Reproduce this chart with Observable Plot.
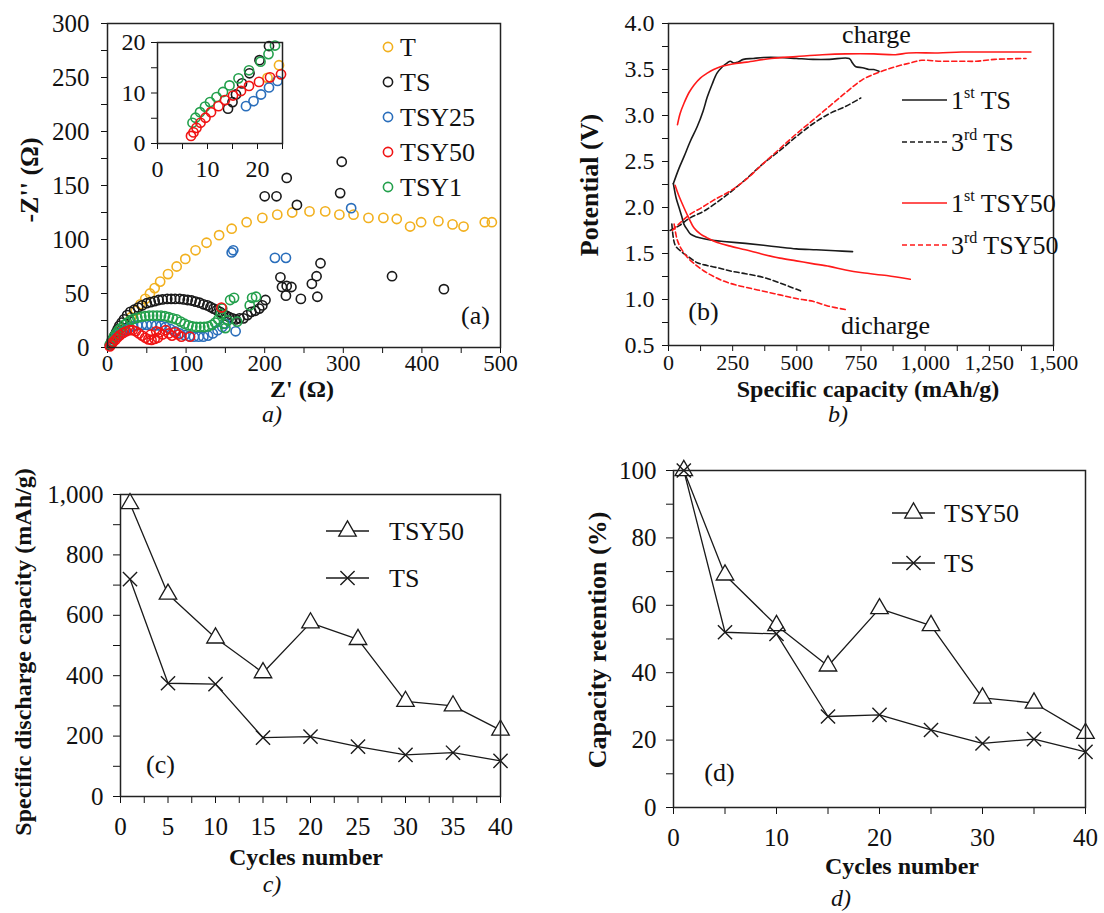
<!DOCTYPE html>
<html>
<head>
<meta charset="utf-8">
<script src="https://cdn.jsdelivr.net/npm/d3@7"></script>
<script src="https://cdn.jsdelivr.net/npm/@observablehq/plot@0.6"></script>
<style>
  html, body { margin: 0; padding: 0; background: #fff; }
  body { width: 1104px; height: 913px; position: relative; overflow: hidden; font-family: 'Liberation Serif', 'Times New Roman', serif; color: #111; }
  svg text, svg tspan { font-family: 'Liberation Serif', 'Times New Roman', serif !important; }
  .ttl { position: absolute; font-weight: bold; font-size: 26px; white-space: nowrap; transform: translate(-50%, -50%); line-height: 1; }
  .sm { font-size: 24px; }
  .rot { transform: translate(-50%, -50%) rotate(-90deg); }
  .cap { position: absolute; font-style: italic; font-size: 24px; transform: translate(-50%, -50%); line-height: 1; }
</style>
</head>
<body>
<div id="root"></div>
<script>
// ---------------- DATA ----------------
// (a) Nyquist plots: [Z', -Z''] pairs
const eisNames = ["T", "TS", "TSY25", "TSY50", "TSY1"];
const eisColors = ["#f2b01e", "#1a1a1a", "#2a6ebb", "#f01414", "#23a04c"];
const eisT = [[6,4],[12,10],[18,16],[24,22],[30,28],[36,34],[42,40],[48,45],[54,50],[60,55],[67,61],[77,68],[88,75],[99,82],[112,90],[126,97],[142,104],[158,110],[177,116],[197,120],[216,123],[235,125],[257,126],[277,126],[295,123],[313,123],[332,120],[351,120],[368,119],[385,112],[399,116],[421,117],[439,114],[453,112],[480,116],[489,116]];
const eisTS = [[3,2],[5,5],[7,8],[9,11],[11,14],[13,17],[15,20],[18,23],[21,26],[25,30],[29,33],[34,35],[39,37],[44,39],[50,41],[55,42],[60,43],[65,44],[70,44.5],[76,45],[81,45],[86,45],[92,45],[97,44.5],[102,44],[107,43.5],[112,42.5],[117,41.5],[122,40],[127,39],[131,37.5],[135,36],[139,34.5],[143,33],[147,31],[151,29.5],[155,28],[159,27],[163,26],[168,27],[173,27],[178,30],[183,33],[188,34],[193,36],[197,39],[201,44],
  [298,172],[296,143],[228,157],[200,140],[215,140],[241,132],[271,78],[266,66],[260,59],[267,47],[246,45],[220,65],[222,56],[228,57],[234,56],[227,48],[362,66],[428,54]];
const eisTSY25 = [[4,3],[7,6],[10,9],[14,12],[18,14],[22,16],[27,18],[32,19.5],[38,20.5],[44,21],[50,21],[56,21],[62,20.5],[68,20],[74,19],[80,17],[86,15],[92,13],[98,11.5],[104,10.5],[110,10],[116,10],[122,10],[128,11],[134,13],[140,16],[146,19],[150,22],[163,15],[158,88],[160,90],[213,83],[227,83],[310,129]];
const eisTSY50 = [[3,1],[5,3],[7,5],[10,7],[13,9.5],[16,11.5],[20,13.5],[24,15],[28,16],[32,16],[36,15],[40,13],[44,11],[48,9],[52,7.5],[56,7],[60,8],[64,9],[55,12],[62,15],[66,14],[70,12],[74,16],[78,13],[82,11],[86,14],[90,12],[94,10],[105,10],[145,37]];
const eisTSY1 = [[3,3],[5,6],[8,10],[11,13],[14,16],[17,18],[21,21],[25,23],[29,25],[33,26.5],[38,27.5],[43,28.5],[48,29],[53,29.5],[58,29.5],[63,29.5],[68,29.5],[73,29],[78,28],[83,27],[88,26],[93,24],[98,22],[103,20.5],[108,19.5],[113,19],[118,19],[123,19],[128,19.5],[133,21],[137,23],[141,26],[144,31],[146,36],[148,22],[150,18],[153,25],[156,44],[161,46],[165,24],[181,39],[184,46],[189,47]];
// inset (zoom of high-frequency region)
const insT = [[22.0,13.0],[24.3,15.5]];
const insTS = [[14.1,6.9],[15,8.2],[15.7,9.7],[16.9,11.9],[18.4,13.9],[20.4,16.5],[22.3,19.3]];
const insTSY25 = [[17.7,7.4],[19.2,8.4],[20.7,9.7],[22.3,11.1],[24,12.4]];
const insTSY50 = [[6.7,1.5],[7.2,2.2],[7.8,3.1],[8.6,4.1],[9.6,5.1],[10.7,6.2],[12.2,7.4],[13.5,8.6],[15.1,9.5],[16.7,10.4],[18.3,11.4],[20.3,12.2],[22.5,13.1],[24.7,13.7]];
const insTSY1 = [[7.0,4.1],[7.6,5.1],[8.5,6.2],[9.5,7.3],[10.5,8.2],[11.8,9.2],[13.1,10.2],[14.4,11.5],[16.2,12.9],[18.3,14.5],[20.6,16.2],[22.2,17.7],[23.5,19.4]];

// (b) charge/discharge profiles: [capacity mAh/g, potential V]
const ts1Charge = [[19,2.26],[40,2.42],[60,2.55],[85,2.72],[112,2.88],[135,3.05],[151,3.2],[170,3.34],[189,3.46],[210,3.53],[228,3.57],[241,3.59],[254,3.57],[270,3.58],[292,3.61],[330,3.62],[370,3.63],[434,3.63],[498,3.62],[563,3.61],[627,3.61],[704,3.62],[717,3.57],[730,3.53],[756,3.52],[781,3.5],[800,3.5],[820,3.48]];
const ts1Discharge = [[19,2.26],[30,2.1],[41,2.0],[52,1.9],[60,1.82],[73,1.76],[86,1.71],[110,1.68],[138,1.66],[180,1.64],[215,1.63],[300,1.61],[370,1.59],[430,1.57],[498,1.55],[576,1.54],[650,1.53],[717,1.52]];
const ts3Charge = [[6,1.75],[40,1.8],[86,1.89],[138,1.96],[215,2.11],[290,2.28],[370,2.48],[434,2.62],[498,2.77],[563,2.91],[627,3.02],[691,3.1],[749,3.19]];
const ts3Discharge = [[13,1.82],[20,1.65],[28,1.58],[50,1.52],[80,1.46],[112,1.4],[150,1.37],[200,1.34],[241,1.31],[300,1.28],[370,1.24],[434,1.18],[518,1.09]];
const tsy1Charge = [[35,2.9],[45,3.02],[60,3.13],[80,3.25],[99,3.33],[125,3.41],[151,3.46],[176,3.5],[202,3.53],[250,3.56],[305,3.58],[400,3.62],[498,3.64],[600,3.66],[691,3.67],[800,3.67],[884,3.66],[936,3.68],[1050,3.68],[1142,3.69],[1300,3.69],[1412,3.69]];
const tsy1Discharge = [[26,2.24],[40,2.13],[60,2.0],[80,1.88],[99,1.78],[125,1.71],[151,1.67],[190,1.62],[241,1.58],[300,1.54],[370,1.49],[434,1.45],[498,1.42],[560,1.39],[627,1.36],[690,1.32],[756,1.29],[850,1.26],[942,1.22]];
const tsy3Charge = [[15,1.75],[40,1.82],[86,1.93],[130,2.0],[176,2.08],[241,2.18],[300,2.3],[370,2.48],[434,2.64],[498,2.8],[563,2.95],[627,3.1],[691,3.25],[756,3.39],[820,3.47],[884,3.53],[940,3.57],[987,3.6],[1060,3.59],[1142,3.59],[1200,3.59],[1271,3.61],[1393,3.62]];
const tsy3Discharge = [[22,1.82],[28,1.72],[35,1.64],[50,1.55],[73,1.46],[100,1.39],[138,1.31],[176,1.25],[215,1.2],[260,1.16],[305,1.13],[370,1.09],[434,1.05],[498,1.01],[563,0.98],[620,0.93],[691,0.89]];

// (c) and (d) cycling
const cycles = [1, 5, 10, 15, 20, 25, 30, 35, 40];
const capTSY50 = [970, 670, 525, 410, 575, 520, 315, 300, 220];
const capTS = [720, 375, 372, 195, 198, 165, 138, 145, 118];
const retTSY50 = [100, 69, 54, 42, 59, 54, 32.5, 31, 22];
const retTS = [100, 52, 51.5, 27, 27.5, 23, 19, 20.3, 16.5];

// ---------------- LAYOUT ----------------
const FONT = "'Liberation Serif','Times New Roman',serif";
const root = document.getElementById("root");
const M = {l: 100, t: 30, r: 40, b: 80};
function panel(f, opts) {
  const svg = Plot.plot({
    width: f.w + M.l + M.r, height: f.h + M.t + M.b,
    marginLeft: M.l, marginTop: M.t, marginRight: M.r, marginBottom: M.b,
    style: {fontFamily: FONT, fontSize: "25px", background: "none", color: "#111", overflow: "visible"},
    ...opts
  });
  svg.setAttribute("font-family", FONT);
  svg.style.position = "absolute";
  svg.style.left = (f.x - M.l) + "px";
  svg.style.top = (f.y - M.t) + "px";
  root.appendChild(svg);
  return svg;
}
const frameMark = () => Plot.frame({stroke: "#222", strokeWidth: 1.5});
const xy = {x: d => d[0], y: d => d[1]};
const tag = (t, anchor, dx, dy) => Plot.text([t], {text: d => d, frameAnchor: anchor, dx, dy, fontSize: 26, textAnchor: "middle", lineAnchor: "middle"});

// (a) main
const A = {x: 107, y: 23, w: 393, h: 324};
const eisSeries = [eisT, eisTS, eisTSY25, eisTSY1, eisTSY50];
const eisSeriesColor = [eisColors[0], eisColors[1], eisColors[2], eisColors[4], eisColors[3]];
panel(A, {
  x: {domain: [0, 500]}, y: {domain: [0, 300]},
  marks: [
    Plot.axisX({ticks: d3.range(0, 501, 50), tickFormat: d => d % 100 === 0 ? d : "", tickSize: 6, tickPadding: 1, fontSize: 23, label: null}),
    Plot.axisY({ticks: d3.range(0, 301, 25), tickFormat: d => d % 50 === 0 ? d : "", tickSize: 6, tickPadding: 12, fontSize: 25, label: null}),
    ...eisSeries.map((s, i) => Plot.dot(s, {...xy, r: 4.6, stroke: eisSeriesColor[i], strokeWidth: 1.6, fill: "none"})),
    frameMark(),
    tag("(a)", "bottom-right", -25, -32)
  ]
});

// (a) inset
const I = {x: 157, y: 42, w: 125, h: 101};
const insSeries = [insT, insTS, insTSY25, insTSY1, insTSY50];
panel(I, {
  x: {domain: [0, 25]}, y: {domain: [0, 20]},
  marks: [
    Plot.frame({fill: "white"}),
    Plot.axisX({ticks: d3.range(0, 26, 5), tickFormat: d => d % 10 === 0 ? d : "", tickSize: 6, tickPadding: 10, fontSize: 24, label: null}),
    Plot.axisY({ticks: d3.range(0, 21, 5), tickFormat: d => d % 10 === 0 ? d : "", tickSize: 6, tickPadding: 6, fontSize: 24, label: null}),
    ...insSeries.map((s, i) => Plot.dot(s, {...xy, r: 4.6, stroke: eisSeriesColor[i], strokeWidth: 1.6, fill: "none"})),
    frameMark()
  ]
});

// (b)
const B = {x: 668, y: 23, w: 385, h: 322};
const bBlack = "#1a1a1a", bRed = "#ff1a1a";
const bLines = [
  [ts1Charge, bBlack, null], [ts1Discharge, bBlack, null],
  [ts3Charge, bBlack, "5,3"], [ts3Discharge, bBlack, "5,3"],
  [tsy3Charge, bRed, "5,3"], [tsy3Discharge, bRed, "5,3"],
  [tsy1Charge, bRed, null], [tsy1Discharge, bRed, null]
];
panel(B, {
  x: {domain: [0, 1500]}, y: {domain: [0.5, 4.0]},
  marks: [
    Plot.axisX({ticks: d3.range(0, 1501, 125), tickFormat: d => d % 250 === 0 ? d3.format(",")(d) : "", tickSize: 6, tickPadding: 3, fontSize: 22, label: null}),
    Plot.axisY({ticks: d3.range(0.5, 4.001, 0.25), tickFormat: d => Math.round(d * 100) % 50 === 0 ? d.toFixed(1) : "", tickSize: 6, tickPadding: 8, fontSize: 24, label: null}),
    ...bLines.map(([s, c, dash]) => Plot.line(s, {...xy, stroke: c, strokeWidth: 1.6, strokeDasharray: dash, curve: "catmull-rom"})),
    frameMark(),
    tag("charge", "top-left", 208, 11),
    tag("dicharge", "bottom-left", 217, -20),
    tag("(b)", "bottom-left", 35, -34)
  ]
});

// (c) and (d)
function cyclePanel(f, yDomain, yTicks, yLabEvery, xTicks, xLabEvery, sTSY50, sTS, yFmt, label, tagDx, tagDy) {
  const rows50 = cycles.map((c, i) => ({c, v: sTSY50[i]}));
  const rowsTS = cycles.map((c, i) => ({c, v: sTS[i]}));
  panel(f, {
    x: {domain: [0, 40]}, y: {domain: yDomain},
    marks: [
      Plot.axisX({ticks: xTicks, tickFormat: d => d % xLabEvery === 0 ? d : "", tickSize: 7, tickPadding: 14, fontSize: 25, label: null}),
      Plot.axisY({ticks: yTicks, tickFormat: d => d % yLabEvery === 0 ? yFmt(d) : "", tickSize: 7, tickPadding: 10, fontSize: 25, label: null}),
      Plot.line(rows50, {x: "c", y: "v", stroke: "#1a1a1a", strokeWidth: 1.3}),
      Plot.line(rowsTS, {x: "c", y: "v", stroke: "#1a1a1a", strokeWidth: 1.3}),
      Plot.dot(rows50, {x: "c", y: "v", symbol: "triangle", r: 6.5, stroke: "#1a1a1a", strokeWidth: 1.3, fill: "white"}),
      Plot.dot(rowsTS, {x: "c", y: "v", symbol: "times", r: 6.5, stroke: "#1a1a1a", strokeWidth: 1.4}),
      frameMark(),
      tag(label, "bottom-left", tagDx, tagDy)
    ]
  });
}
const C = {x: 120, y: 494, w: 380, h: 302};
cyclePanel(C, [0, 1000], d3.range(0, 1001, 100), 200, d3.range(0, 40.01, 2.5), 5, capTSY50, capTS, d3.format(","), "(c)", 40, -32);
const D = {x: 673, y: 470, w: 412, h: 337};
cyclePanel(D, [0, 100], d3.range(0, 101, 10), 20, d3.range(0, 41, 5), 10, retTSY50, retTS, d => d, "(d)", 46, -35);

// ---------------- TITLES / CAPTIONS ----------------
const texts = [
  ["ttl sm", "Z' (Ω)", 302, 389], ["ttl rot", "-Z'' (Ω)", 30, 180],
  ["ttl sm", "Specific capacity (mAh/g)", 868, 389], ["ttl rot", "Potential (V)", 590, 185],
  ["ttl sm", "Cycles number", 306, 857], ["ttl rot sm", "Specific discharge capacity (mAh/g)", 23, 652],
  ["ttl sm", "Cycles number", 902, 866], ["ttl rot", "Capacity retention (%)", 598, 640],
  ["cap", "a)", 272, 414], ["cap", "b)", 838, 414], ["cap", "c)", 272, 884], ["cap", "d)", 841, 898]
];
for (const [cls, t, x, y] of texts) {
  const d = document.createElement("div");
  d.className = cls; d.textContent = t;
  d.style.left = x + "px"; d.style.top = y + "px";
  root.appendChild(d);
}

// ---------------- LEGENDS ----------------
const ov = d3.create("svg").attr("width", 1104).attr("height", 913)
  .style("position", "absolute").style("left", "0px").style("top", "0px")
  .attr("font-family", FONT).attr("font-size", 26).attr("fill", "#111");
// (a)
const legAy = [47, 82, 117, 152, 187];
eisNames.forEach((n, i) => {
  ov.append("circle").attr("cx", 388).attr("cy", legAy[i]).attr("r", 4.6).attr("fill", "none").attr("stroke", eisColors[i]).attr("stroke-width", 1.6);
  ov.append("text").attr("x", 400).attr("y", legAy[i] + 9).text(n);
});
// (b)
const legB = [
  ["1", "st", " TS", bBlack, null, 100], ["3", "rd", " TS", bBlack, "5,3", 142],
  ["1", "st", " TSY50", bRed, null, 203], ["3", "rd", " TSY50", bRed, "5,3", 245]
];
legB.forEach(([a, s, b, c, dash, y]) => {
  ov.append("line").attr("x1", 902).attr("x2", 947).attr("y1", y).attr("y2", y).attr("stroke", c).attr("stroke-width", 1.6).attr("stroke-dasharray", dash);
  const t = ov.append("text").attr("x", 951).attr("y", y + 9);
  t.append("tspan").text(a);
  t.append("tspan").attr("dy", -11).attr("font-size", 16).text(s);
  t.append("tspan").attr("dy", 11).text(b);
});
// (c), (d)
function legCD(x1, x2, tx, y1, y2) {
  [[y1, "TSY50", "tri"], [y2, "TS", "x"]].forEach(([y, name, sym]) => {
    const mx = (x1 + x2) / 2;
    ov.append("line").attr("x1", x1).attr("x2", x2).attr("y1", y).attr("y2", y).attr("stroke", "#1a1a1a").attr("stroke-width", 1.3);
    if (sym === "tri") {
      ov.append("path").attr("d", d3.symbol(d3.symbolTriangle, 6.5 * 6.5 * Math.PI)()).attr("transform", `translate(${mx},${y})`).attr("fill", "white").attr("stroke", "#1a1a1a").attr("stroke-width", 1.3);
    } else {
      ov.append("path").attr("d", d3.symbol(d3.symbolTimes, 6.5 * 6.5 * Math.PI)()).attr("transform", `translate(${mx},${y})`).attr("fill", "none").attr("stroke", "#1a1a1a").attr("stroke-width", 1.4);
    }
    ov.append("text").attr("x", tx).attr("y", y + 9).text(name);
  });
}
legCD(326, 369, 389, 531, 578);
legCD(892, 935, 944, 513, 563);
root.appendChild(ov.node());
</script>
</body>
</html>
